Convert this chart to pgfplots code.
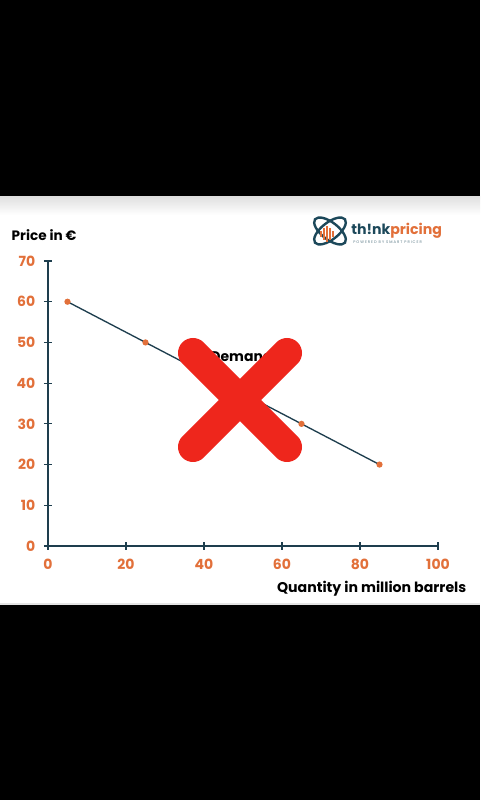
\documentclass[border=0pt]{standalone}
\usepackage{pgfplots}
\pgfplotsset{compat=1.18}
\usepackage{fontspec}
\setmainfont{Poppins}
\definecolor{tickorange}{RGB}{226,112,58}
\definecolor{lineteal}{RGB}{30,62,78}
\definecolor{crossred}{RGB}{238,38,28}
\definecolor{logoteal}{RGB}{28,72,90}

\begin{document}
\begin{tikzpicture}[x=0.75pt,y=0.75pt]
% page in px units (480 x 800), origin bottom left
\fill[black] (0,0) rectangle (480,800);
\fill[white] (0,195) rectangle (480,603);
\shade[top color=black!12, bottom color=white] (0,585) rectangle (480,603);
\fill[black!10] (0,195) rectangle (480,197);
\useasboundingbox (0,0) rectangle (480,800);

\begin{axis}[
    at={(36pt,190.5pt)}, anchor=south west,
    scale only axis,
    width=292.5pt, height=213.75pt,
    xmin=0, xmax=100, ymin=0, ymax=70,
    axis x line=bottom, axis y line=left,
    axis line style={-, lineteal, line width=0.9pt},
    xtick={0,20,...,100}, ytick={0,10,...,70},
    tick align=center, major tick length=6pt,
    tick style={lineteal, line width=0.9pt},
    ticklabel style={font=\bfseries\fontsize{10.5}{12}\selectfont, text=tickorange},
    /pgf/number format/assume math mode=true,
    xticklabel style={yshift=-3pt},
    yticklabel style={xshift=-3pt},
    clip=false,
]
\addplot[lineteal, line width=1pt, mark=*, mark size=1.8pt,
    mark options={fill=tickorange, draw=tickorange}]
    coordinates {(5,60) (25,50) (45,40) (65,30) (85,20)};
\node[font=\bfseries\fontsize{10.5}{12}\selectfont] at (axis cs:49.6,46.6) {Demand};
\end{axis}

% crossed-out overlay
\draw[crossred, line width=22.5pt, line cap=round] (193,447) -- (287,353);
\draw[crossred, line width=22.5pt, line cap=round] (287,447) -- (193,353);

% axis titles
\node[anchor=west, font=\bfseries\fontsize{10.2}{12}\selectfont] at (7,565) {Price in €};
\node[anchor=east, font=\bfseries\fontsize{10.6}{12}\selectfont] at (471,211) {Quantity in million barrels};

% logo
\draw[logoteal, line width=1.8pt] (330,569) ellipse [x radius=19, y radius=8.5, rotate=38];
\draw[logoteal, line width=1.8pt] (330,569) ellipse [x radius=19, y radius=8.5, rotate=-38];
\foreach \xx/\hh in {321/3,324/6,327/8,330/6,333/3}
  \fill[tickorange] (\xx-1.1,566-\hh) rectangle (\xx+1.1,566+\hh);
\node[anchor=west, inner sep=0pt, font=\bfseries\fontsize{10.6}{12}\selectfont] at (351,569)
  {\textcolor{logoteal}{th!nk}\textcolor{tickorange}{pricing}};
\node[anchor=west, inner sep=0pt, font=\fontsize{2.8}{3}\selectfont, text=logoteal!70] at (353,558)
  {P O W E R E D\ \ B Y\ \ S M A R T\ \ P R I C E R};
\end{tikzpicture}
\end{document}
